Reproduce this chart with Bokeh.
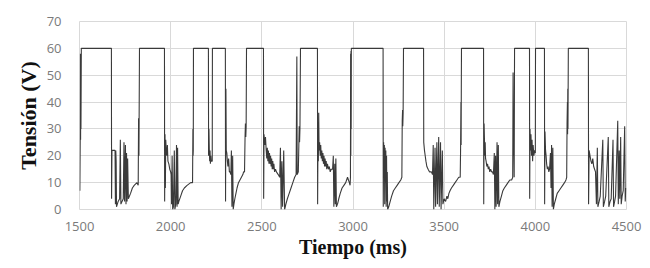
from bokeh.plotting import figure
from bokeh.models import Range1d, FixedTicker
from bokeh.embed import file_html
from bokeh.resources import INLINE

# Time (ms) and voltage (V) samples
tiempo_ms = [
    1502, 1504, 1505, 1506, 1507, 1508, 1510, 1675,
    1676, 1678, 1695, 1697, 1699, 1701, 1703, 1712, 1720, 1724, 1727, 1740, 1744,
    1747, 1752, 1755, 1758, 1761, 1764, 1768, 1780, 1790, 1800, 1815, 1822, 1824,
    1826, 1827, 1829, 1966,
    1967, 1969, 1971, 1973, 1976, 1979, 1982, 1985, 1990, 1995, 2000, 2003, 2005,
    2008, 2011, 2015, 2020, 2023, 2028, 2032, 2035, 2038, 2041, 2045, 2055, 2065,
    2075, 2090, 2110, 2120, 2122, 2123, 2124, 2125, 2207,
    2208, 2210, 2212, 2214, 2216, 2218, 2220, 2222, 2228, 2229, 2300,
    2301, 2303, 2305, 2308, 2311, 2314, 2318, 2322, 2326, 2330, 2333, 2336, 2340,
    2343, 2347, 2352, 2358, 2364, 2372, 2380, 2388, 2396, 2400, 2405, 2408, 2410,
    2412, 2414, 2416, 2509,
    2510, 2512, 2516, 2520, 2524, 2527, 2530, 2533, 2536, 2539, 2542, 2545, 2548,
    2551, 2554, 2557, 2560, 2563, 2566, 2570, 2575, 2580, 2590, 2598, 2602, 2606,
    2610, 2614, 2620, 2625, 2632, 2640, 2650, 2660, 2670, 2680, 2688, 2692, 2694,
    2700, 2703, 2705, 2707, 2709, 2712, 2805,
    2806, 2808, 2810, 2812, 2814, 2817, 2820, 2823, 2826, 2829, 2832, 2835, 2838,
    2841, 2844, 2847, 2850, 2853, 2856, 2860, 2865, 2870, 2875, 2880, 2888, 2892,
    2895, 2900, 2903, 2906, 2909, 2915, 2922, 2930, 2940, 2950, 2960, 2970, 2980,
    2984, 2986, 2987, 2988, 2989, 2990, 2991, 3165,
    3166, 3168, 3170, 3172, 3174, 3176, 3178, 3180, 3182, 3184, 3186, 3188, 3190,
    3196, 3204, 3212, 3222, 3232, 3242, 3252, 3262, 3268, 3270, 3272, 3273, 3275,
    3277, 3387,
    3388, 3392, 3396, 3400, 3405, 3412, 3420, 3430, 3436, 3440, 3443, 3450, 3453,
    3460, 3463, 3470, 3473, 3480, 3483, 3490, 3493, 3500, 3508, 3515, 3520, 3526,
    3532, 3540, 3550, 3560, 3570, 3580, 3588, 3590, 3592, 3593, 3594, 3595, 3716,
    3717, 3719, 3721, 3723, 3725, 3727, 3730, 3734, 3738, 3742, 3746, 3750, 3755,
    3760, 3765, 3770, 3775, 3778, 3782, 3785, 3790, 3793, 3797, 3800, 3806, 3814,
    3822, 3830, 3840, 3850, 3860, 3870, 3876, 3878, 3880, 3882, 3884, 3886, 3968,
    3969, 3971, 3973, 3976, 3979, 3982, 3985, 3988, 3992, 3996, 4000, 4001, 4050,
    4051, 4053, 4056, 4059, 4062, 4066, 4070, 4074, 4078, 4083, 4086, 4089, 4092,
    4096, 4099, 4104, 4112, 4120, 4130, 4140, 4150, 4160, 4168, 4172, 4174, 4176,
    4177, 4178, 4179, 4181, 4291,
    4292, 4295, 4300, 4305, 4310, 4315, 4320, 4325, 4330, 4335, 4340, 4343, 4350,
    4356, 4370, 4373, 4380, 4386, 4400, 4403, 4410, 4416, 4426, 4429, 4435, 4440,
    4452, 4455, 4460, 4463, 4468, 4471, 4476, 4482, 4490, 4493, 4496,
]

tension_v = [
    7, 27, 58, 26, 57, 30, 60, 60,
    4, 22, 22, 2, 22, 18, 1, 3, 4, 26, 2, 4, 25,
    3, 24, 2, 21, 3, 19, 4, 6, 8, 9, 10, 9, 34,
    20, 33, 60, 60,
    3, 28, 8, 26, 22, 20, 24, 18, 17, 15, 14, 13, 2,
    20, 0, 1, 22, 0, 2, 24, 1, 23, 2, 3, 5, 7,
    8, 9, 10, 10, 30, 20, 22, 60, 60,
    20, 30, 22, 18, 22, 17, 20, 18, 18, 60, 60,
    3, 45, 22, 21, 18, 16, 19, 14, 14, 13, 22, 1, 20,
    0, 2, 4, 6, 8, 10, 11, 12, 13, 14, 14, 27, 32,
    27, 31, 60, 60,
    4, 28, 24, 27, 22, 19, 23, 18, 22, 17, 21, 17, 20,
    16, 19, 15, 18, 15, 17, 14, 15, 14, 13, 12, 23, 0,
    18, 1, 22, 0, 2, 4, 6, 8, 10, 12, 13, 57, 13,
    14, 24, 31, 25, 30, 60, 60,
    2, 28, 18, 36, 22, 25, 20, 24, 19, 22, 18, 21, 17,
    20, 16, 19, 16, 18, 15, 17, 15, 16, 14, 15, 15, 20,
    1, 17, 2, 19, 1, 2, 4, 6, 8, 9, 10, 12, 10,
    9, 12, 58, 20, 59, 30, 60, 60,
    1, 25, 12, 24, 2, 23, 10, 22, 1, 20, 3, 14, 0,
    1, 3, 5, 7, 8, 9, 10, 11, 12, 33, 37, 31, 36,
    60, 60,
    25, 22, 20, 18, 16, 15, 14, 14, 13, 24, 0, 23, 1,
    25, 2, 27, 1, 25, 0, 22, 2, 4, 3, 5, 4, 6,
    7, 8, 9, 10, 11, 12, 12, 22, 40, 24, 45, 60, 60,
    2, 32, 26, 20, 25, 19, 18, 16, 17, 15, 16, 14, 15,
    14, 14, 13, 21, 0, 20, 1, 25, 2, 24, 1, 3, 5,
    7, 8, 9, 10, 11, 11, 12, 51, 20, 25, 12, 60, 60,
    4, 30, 22, 28, 20, 26, 18, 24, 20, 22, 21, 60, 60,
    2, 29, 22, 20, 17, 15, 16, 14, 15, 21, 8, 24, 1,
    23, 0, 2, 4, 6, 7, 8, 9, 10, 11, 12, 32, 40,
    28, 45, 30, 60, 60,
    2, 22, 20, 18, 17, 19, 16, 15, 14, 2, 23, 1, 3,
    5, 26, 1, 3, 5, 27, 1, 3, 4, 26, 1, 3, 5,
    33, 2, 22, 4, 27, 2, 5, 7, 31, 3, 8,
]

x_ticks = [1500, 2000, 2500, 3000, 3500, 4000, 4500]
y_ticks = [0, 10, 20, 30, 40, 50, 60, 70]

p = figure(
    width=642, height=260,
    output_backend="svg", toolbar_location=None,
    x_range=Range1d(1500, 4500), y_range=Range1d(0, 70),
    min_border_left=79, min_border_right=16,
    min_border_top=21, min_border_bottom=51,
)

p.line(tiempo_ms, tension_v, line_color="#3a3a3a", line_width=1.1)

grid_col = "#d9d9d9"
p.xgrid.grid_line_color = grid_col
p.ygrid.grid_line_color = grid_col
p.outline_line_color = grid_col
p.background_fill_color = "white"
p.border_fill_color = "white"

p.xaxis.ticker = FixedTicker(ticks=x_ticks)
p.yaxis.ticker = FixedTicker(ticks=y_ticks)

for ax in (p.xaxis[0], p.yaxis[0]):
    ax.axis_line_color = None
    ax.major_tick_line_color = None
    ax.minor_tick_line_color = None
    ax.major_label_text_font = "Open Sans"
    ax.major_label_text_font_size = "13px"
    ax.major_label_text_color = "#7a7a7a"
    ax.axis_label_text_font = "Liberation Serif"
    ax.axis_label_text_font_style = "bold"
    ax.axis_label_text_color = "#111111"

p.xaxis.axis_label = "Tiempo (ms)"
p.yaxis.axis_label = "Tensión (V)"
p.xaxis.axis_label_text_font_size = "20px"
p.yaxis.axis_label_text_font_size = "22px"
p.xaxis.major_label_standoff = 6
p.xaxis.axis_label_standoff = 2
p.yaxis.major_label_standoff = 12
p.yaxis.axis_label_standoff = 3

open("out.html", "w").write(file_html(p, INLINE))
